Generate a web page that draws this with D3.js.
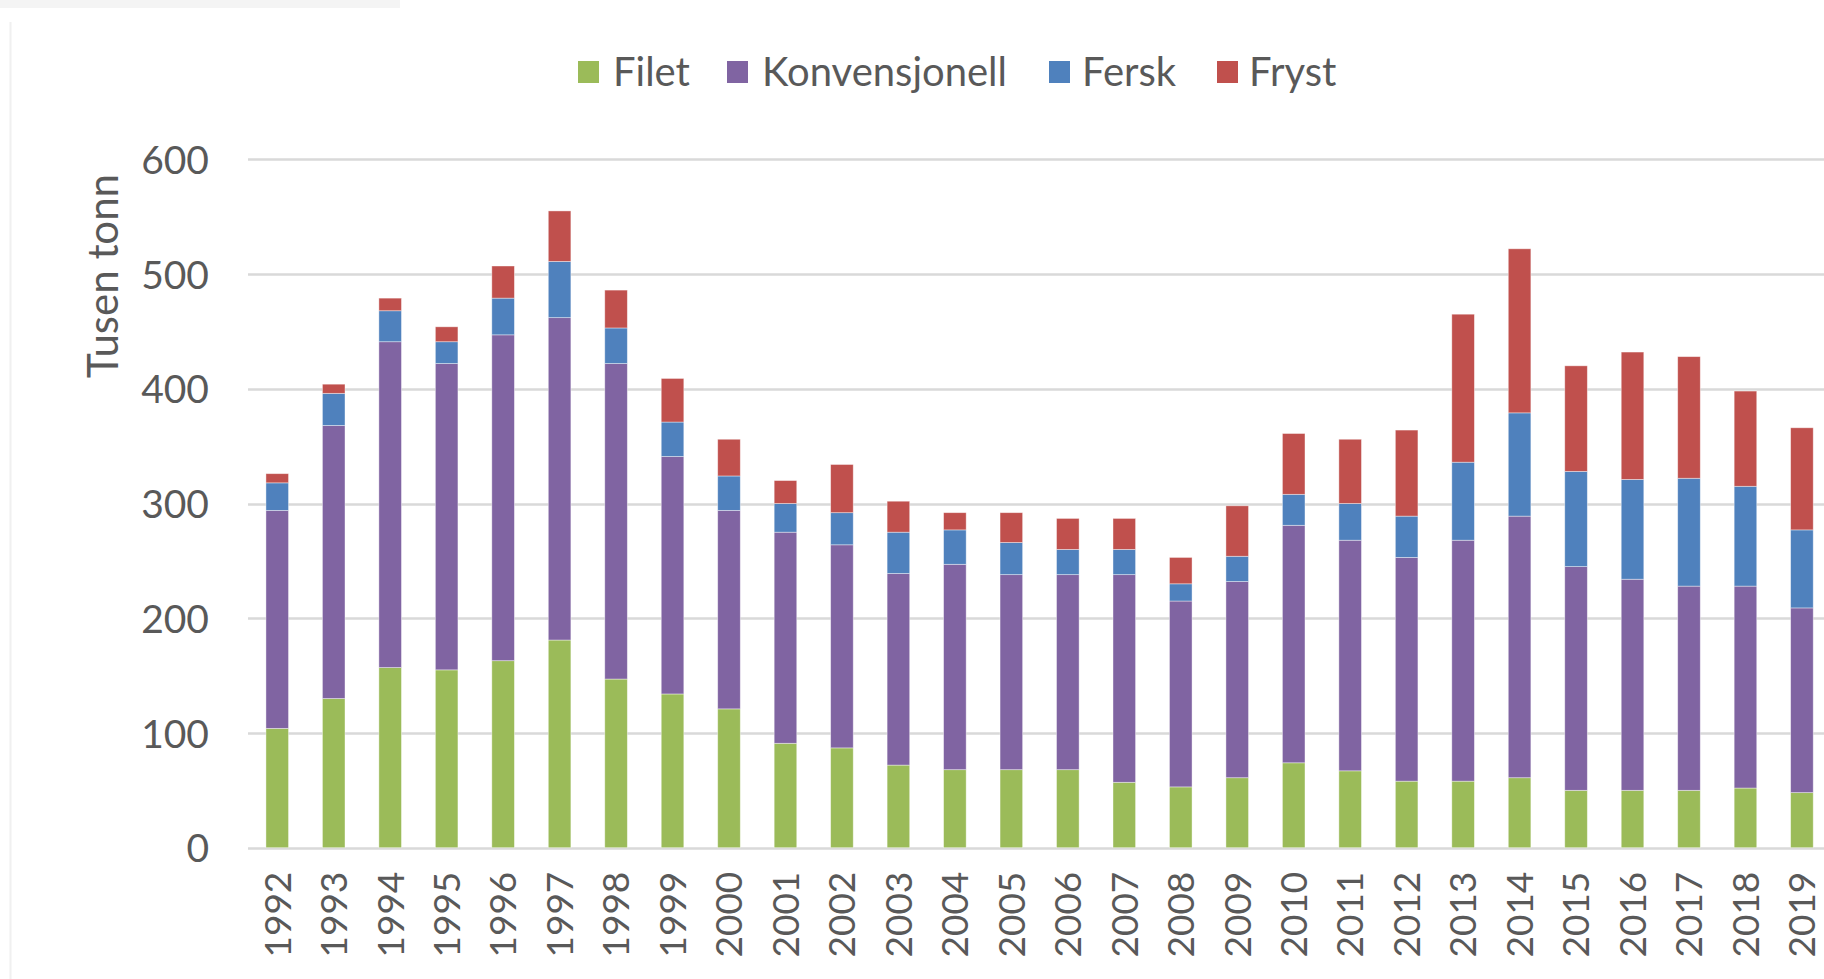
<!DOCTYPE html>
<html><head><meta charset="utf-8">
<script src="https://cdn.jsdelivr.net/npm/d3@7"></script>
<style>
html,body{margin:0;padding:0;background:#fff;overflow:hidden;}
svg{display:block;}
text{font-family:Lato,"Open Sans",sans-serif;fill:#595959;}
</style></head>
<body>
<svg id="chart" width="1824" height="979"></svg>
<script>
const years = ["1992","1993","1994","1995","1996","1997","1998","1999","2000","2001","2002","2003","2004","2005","2006","2007","2008","2009","2010","2011","2012","2013","2014","2015","2016","2017","2018","2019"];
const filet = [104,130,157,155,163,181,147,134,121,91,87,72,68,68,68,57,53,61,74,67,58,58,61,50,50,50,52,48];
const konvensjonell = [190,238,284,267,284,281,275,207,173,184,177,167,179,170,170,181,162,171,207,201,195,210,228,195,184,178,176,161];
const fersk = [24,28,27,19,32,49,31,30,30,25,28,36,30,28,22,22,15,22,27,32,36,68,90,83,87,94,87,68];
const fryst = [8,8,11,13,28,44,33,38,32,20,42,27,15,26,27,27,23,44,53,56,75,129,143,92,111,106,83,89];
const seriesNames = ["Filet","Konvensjonell","Fersk","Fryst"];
const seriesColors = ["#9BBB59","#8064A2","#4F81BD","#C0504D"];
const yTicks = [0,100,200,300,400,500,600];
const yTitle = "Tusen tonn";

const FONT = 'Lato,"Open Sans",sans-serif';
const svg = d3.select("#chart");

// faint frame remnants
svg.append("rect").attr("x",0).attr("y",0).attr("width",400).attr("height",8).attr("fill","#f4f4f4");
svg.append("line").attr("x1",10.5).attr("x2",10.5).attr("y1",22).attr("y2",979).attr("stroke","#f0f0f0").attr("stroke-width",2);

const table = years.map((y,i)=>({year:y, Filet:filet[i], Konvensjonell:konvensjonell[i], Fersk:fersk[i], Fryst:fryst[i]}));
const stacked = d3.stack().keys(seriesNames)(table);

const x = d3.scaleBand().domain(years).range([249, 249 + 28*56.47]).paddingInner(0.6).paddingOuter(0.3);
const y = d3.scaleLinear().domain([0,600]).range([847.7,159.3]);

// gridlines
svg.append("g").selectAll("line").data(yTicks).join("line")
  .attr("x1",248).attr("x2",1824)
  .attr("y1",d=>Math.round(y(d))+0.5).attr("y2",d=>Math.round(y(d))+0.5)
  .attr("stroke","#d9d9d9").attr("stroke-width",2.5);

// bars
const color = d3.scaleOrdinal().domain(seriesNames).range(seriesColors);
svg.append("g").selectAll("g").data(stacked).join("g")
  .attr("fill",d=>color(d.key))
  .selectAll("rect").data(d=>d).join("rect")
  .attr("x",d=>x(d.data.year))
  .attr("width",x.bandwidth())
  .attr("y",d=>y(d[1]))
  .attr("height",d=>y(d[0])-y(d[1]))
  .attr("stroke","#ffffff").attr("stroke-opacity",0.5).attr("stroke-width",0.8);

// y axis
const yAxis = d3.axisLeft(y).tickValues(yTicks).tickSize(0).tickPadding(0);
const gy = svg.append("g").attr("transform","translate(209,0)").call(yAxis);
gy.select(".domain").remove();
gy.selectAll("text").attr("font-size",39).attr("fill","#595959")
  .style("font-family",FONT).attr("dy","0.36em");

// x axis
const xAxis = d3.axisBottom(x).tickSize(0).tickPadding(0);
const gx = svg.append("g").attr("transform","translate(0,847.7)").call(xAxis);
gx.select(".domain").remove();
gx.selectAll("text").attr("font-size",37).attr("fill","#595959")
  .style("font-family",FONT)
  .attr("text-anchor","end").attr("transform","rotate(-90)")
  .attr("x",-24).attr("y",0).attr("dy","0.36em");

// y title
svg.append("text").attr("transform","translate(103,276) rotate(-90)")
  .attr("text-anchor","middle").attr("dy","0.36em").attr("font-size",42).text(yTitle);

// legend
const legendPos = [{sx:578, tx:613},{sx:727, tx:762},{sx:1049, tx:1082},{sx:1217, tx:1249}];
const lg = svg.append("g");
seriesNames.forEach((n,i)=>{
  lg.append("rect").attr("x",legendPos[i].sx).attr("y",61).attr("width",21).attr("height",22).attr("fill",seriesColors[i]);
  lg.append("text").attr("x",legendPos[i].tx).attr("y",72).attr("dy","0.36em").attr("font-size",40).text(n);
});
</script>
</body></html>
